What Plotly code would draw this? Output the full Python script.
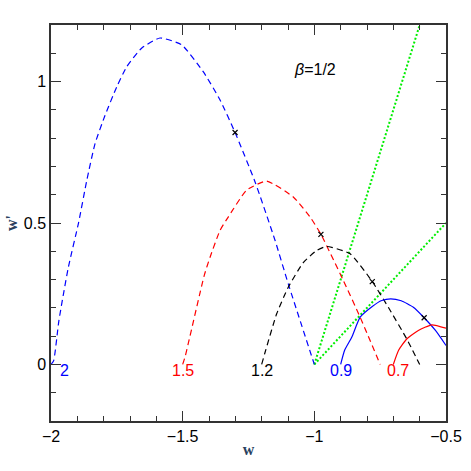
import plotly.graph_objects as go

# Curves (w, w')
w_b2 = [-2.0, -1.99, -1.97, -1.934, -1.896, -1.864, -1.833, -1.795, -1.75, -1.712, -1.656, -1.586,
        -1.504, -1.422, -1.358, -1.301, -1.225, -1.149, -1.099, -1.0]
wp_b2 = [0.0, 0.013, 0.155, 0.344, 0.498, 0.651, 0.78, 0.88, 0.982, 1.053, 1.118, 1.154,
         1.13, 1.035, 0.935, 0.82, 0.645, 0.438, 0.285, 0.0]

w_r15 = [-1.5, -1.49, -1.418, -1.396, -1.358, -1.327, -1.257, -1.181, -1.08, -1.016, -0.975, -0.89, -0.826, -0.75]
wp_r15 = [0.0, 0.03, 0.315, 0.379, 0.474, 0.521, 0.616, 0.648, 0.592, 0.521, 0.46, 0.297, 0.167, 0.0]

w_k12 = [-1.2, -1.187, -1.143, -1.099, -1.042, -0.991, -0.953, -0.864, -0.78, -0.719, -0.649, -0.6]
wp_k12 = [0.0, 0.043, 0.179, 0.273, 0.36, 0.403, 0.417, 0.391, 0.293, 0.202, 0.09, 0.0]

w_b09 = [-0.9, -0.885, -0.858, -0.826, -0.78, -0.744, -0.71, -0.67, -0.624, -0.583, -0.54, -0.5]
wp_b09 = [0.0, 0.05, 0.096, 0.167, 0.205, 0.226, 0.232, 0.225, 0.202, 0.165, 0.12, 0.067]

w_r07 = [-0.7, -0.68, -0.649, -0.605, -0.554, -0.5]
wp_r07 = [0.0, 0.05, 0.09, 0.12, 0.14, 0.128]

w_g1 = [-1.0, -0.6]
wp_g1 = [0.0, 1.2]
w_g2 = [-1.0, -0.5]
wp_g2 = [0.0, 0.5]

x_marks_w = [-1.301, -0.975, -0.78, -0.583]
x_marks_wp = [0.82, 0.46, 0.293, 0.165]

label_text = ["2", "1.5", "1.2", "0.9", "0.7"]
label_w = [-1.949, -1.498, -1.197, -0.899, -0.681]
label_colors = ["#0000ff", "#ff0000", "#000000", "#0000ff", "#ff0000"]

fig = go.Figure()
dash = "6px,4px"
sm = dict(shape="spline", smoothing=0.5)
fig.add_trace(go.Scatter(x=w_g1, y=wp_g1, mode="lines", line=dict(color="#00ee00", width=2, dash="2px,2px")))
fig.add_trace(go.Scatter(x=w_g2, y=wp_g2, mode="lines", line=dict(color="#00ee00", width=2, dash="2px,2px")))
fig.add_trace(go.Scatter(x=w_b2, y=wp_b2, mode="lines", line=dict(color="#0000ff", width=1.2, dash=dash, **sm)))
fig.add_trace(go.Scatter(x=w_r15, y=wp_r15, mode="lines", line=dict(color="#ff0000", width=1.2, dash=dash, **sm)))
fig.add_trace(go.Scatter(x=w_k12, y=wp_k12, mode="lines", line=dict(color="#000000", width=1.2, dash=dash, **sm)))
fig.add_trace(go.Scatter(x=w_b09, y=wp_b09, mode="lines", line=dict(color="#0000ff", width=1.2, **sm)))
fig.add_trace(go.Scatter(x=w_r07, y=wp_r07, mode="lines", line=dict(color="#ff0000", width=1.2, **sm)))
fig.add_trace(go.Scatter(x=x_marks_w, y=x_marks_wp, mode="markers",
                         marker=dict(symbol="x-thin", size=5, line=dict(color="black", width=1.2))))

for t, xw, c in zip(label_text, label_w, label_colors):
    fig.add_annotation(x=xw, y=-0.022, text=t, showarrow=False,
                       font=dict(family="Liberation Sans", size=16, color=c))

fig.add_annotation(x=-0.997, y=1.044, text="<i>β</i>=1/2", showarrow=False,
                   font=dict(family="Liberation Sans", size=16, color="black"))

axis_common = dict(showgrid=False, zeroline=False, showline=True, linecolor="#333333", linewidth=1.5,
                   mirror="allticks", ticks="inside", ticklen=10, tickwidth=1.2, tickcolor="#333333",
                   automargin=False,
                   tickfont=dict(family="Liberation Sans", size=16, color="black"),
                   minor=dict(ticks="inside", ticklen=5, dtick=0.1, tickwidth=1.2, tickcolor="#333333"))

fig.update_layout(
    width=471, height=471,
    margin=dict(l=51, r=25, t=25, b=50),
    plot_bgcolor="white", paper_bgcolor="white",
    showlegend=False,
    hovermode=False,
    xaxis=dict(range=[-2, -0.5], dtick=0.5, tick0=-2,
               title=dict(text="<b>w</b>", standoff=0, font=dict(family="Liberation Serif", size=16)),
               **axis_common),
    yaxis=dict(range=[-0.2, 1.2], dtick=0.5, tick0=0,
               title=dict(text="<b>w'</b>", standoff=2, font=dict(family="Liberation Serif", size=16)),
               **axis_common),
)

fig.write_html("out.html", config={"displayModeBar": False},
               post_script="document.body.style.margin='0';document.body.style.overflow='hidden';")
